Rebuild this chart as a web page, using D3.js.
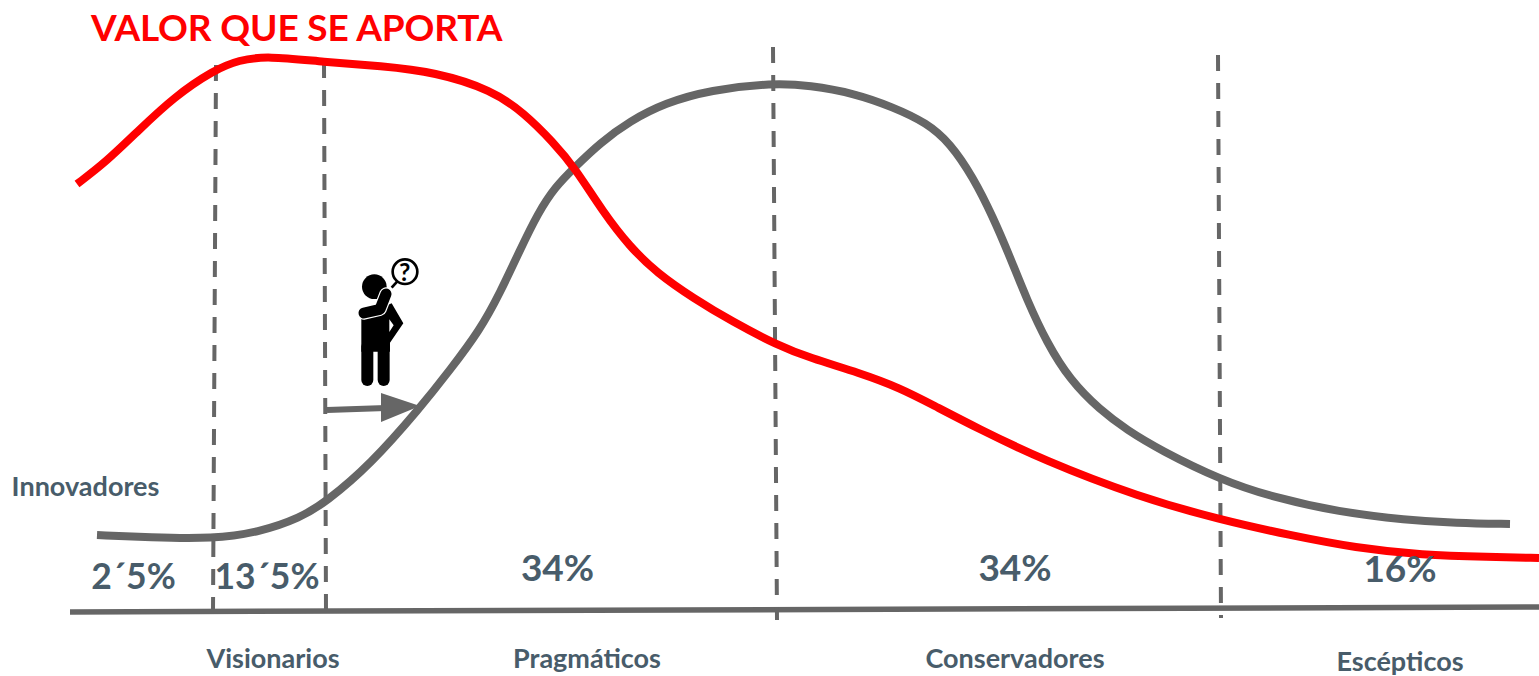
<!DOCTYPE html>
<html>
<head>
<meta charset="utf-8">
<script src="https://cdn.jsdelivr.net/npm/d3@7"></script>
<style>
	html, body { margin: 0; padding: 0; background: white; overflow: hidden; }
	text { font-family: Lato, sans-serif; font-weight: 700; }
</style>
</head>
<body>
<svg id="chart" width="1539" height="676"></svg>
<script>
// curves (x = position along the adoption axis, y = height above it)
const grayX = [9.7, 15, 21.3, 26, 30, 32.6, 37, 42, 45, 48, 50, 52, 53.8, 55.5, 57.5, 60, 63, 66.5, 71, 77.3, 81, 85.3, 89.3, 92.7, 95, 97.3, 99.3, 101, 102.7, 104.7, 107, 110, 112.7, 116, 122.1, 127.2, 133.9, 140.6, 145.6, 151];
const grayY = [15.4, 14.9, 14.6, 16, 18.8, 22, 29.4, 40.8, 48.4, 56.4, 63.8, 72.4, 79.8, 85, 89, 93.8, 98.2, 101.8, 104.4, 105.8, 105.3, 103.8, 101, 97.8, 93.8, 87, 79, 71, 62.4, 53.8, 46.4, 40.4, 36.4, 32.4, 26.4, 23, 20, 18.4, 17.8, 17.6];
const redX = [7.7, 10.6, 13.9, 17.4, 21.4, 23.9, 26.7, 32.4, 38.1, 43.5, 49.2, 52.4, 55.3, 57.5, 60.3, 63, 65.7, 69.3, 73.3, 77.7, 81, 86, 90, 93.3, 97.7, 104.3, 113.9, 122.1, 128.9, 135.6, 142.2, 148.9, 153.9];
const redY = [85.6, 90, 96.4, 103, 108.4, 110.4, 111.2, 110, 109.2, 108, 104.4, 99.8, 94, 88.8, 80, 73, 67.8, 62.8, 58, 53.4, 50.8, 47.8, 44.8, 41.4, 36.8, 30.4, 23, 18.4, 15.4, 12.8, 11.4, 11, 10.8];

// segment dividers: x at the top, x at the bottom, top height, bottom height
const dividerTopX = [21.6, 32.4, 77.3, 121.8];
const dividerBottomX = [21.3, 32.6, 77.7, 122.1];
const dividerTopY = [109.4, 110, 113, 111.4];
const dividerBottomY = [0, 0, -1.6, -1.2];

const percentLabels = ['2´5%', '13´5%', '34%', '34%', '16%'];
const percentX = [13.35, 26.7, 55.75, 101.5, 140];
const percentY = [4.6, 4.6, 6.2, 6.2, 6];

const groupLabels = ['Innovadores', 'Visionarios', 'Pragmáticos', 'Conservadores', 'Escépticos'];
const groupX = [8.55, 27.3, 58.7, 101.5, 140];
const groupY = [23.2, -11.2, -11.2, -11.2, -11.7];

const width = 1539, height = 676;
const x = d3.scaleLinear().domain([0, 153.9]).range([0, width]);
const y = d3.scaleLinear().domain([0, 122.4]).range([612, 0]);

const svg = d3.select('#chart');
const line = d3.line().x(d => x(d[0])).y(d => y(d[1])).curve(d3.curveBasis);
const straight = d3.line().x(d => x(d[0])).y(d => y(d[1]));

// base axis
svg.append('path')
	.attr('d', straight([[7, 0], [153.9, 1]]))
	.attr('fill', 'none').attr('stroke', '#666').attr('stroke-width', 5.5);

// dividers
svg.append('g').selectAll('line').data(dividerTopX).join('line')
	.attr('x1', d => x(d))
	.attr('y1', (d, i) => y(dividerTopY[i]))
	.attr('x2', (d, i) => x(dividerBottomX[i]))
	.attr('y2', (d, i) => y(dividerBottomY[i]))
	.attr('stroke', '#666').attr('stroke-width', 4).attr('stroke-dasharray', '16 12');

// curves
svg.append('path').datum(d3.zip(grayX, grayY))
	.attr('d', line)
	.attr('fill', 'none').attr('stroke', '#666').attr('stroke-width', 8);
svg.append('path').datum(d3.zip(redX, redY))
	.attr('d', line)
	.attr('fill', 'none').attr('stroke', '#ff0000').attr('stroke-width', 8);

// arrow
svg.append('path')
	.attr('d', straight([[32.7, 40.4], [38.6, 40.8]]))
	.attr('fill', 'none').attr('stroke', '#666').attr('stroke-width', 6);
svg.append('path')
	.attr('d', straight([[38.1, 43.8], [42, 41.2], [38.1, 38]]) + 'Z')
	.attr('fill', '#666');

// person with question bubble
const person = svg.append('g').attr('transform', 'translate(320,240) scale(0.3333)');
person.append('circle').attr('cx', 163).attr('cy', 140).attr('r', 37).attr('fill', 'black');
person.append('line').attr('x1', 142).attr('y1', 320).attr('x2', 142).attr('y2', 420)
	.attr('stroke', 'black').attr('stroke-width', 36).attr('stroke-linecap', 'round');
person.append('line').attr('x1', 191).attr('y1', 320).attr('x2', 191).attr('y2', 420)
	.attr('stroke', 'black').attr('stroke-width', 36).attr('stroke-linecap', 'round');
person.append('path')
	.attr('d', 'M124,225 L124,335 L210,335 L210,308 L250,250 L215,190 L180,205 Z M208,238 L208,276 L221,256 Z')
	.attr('fill', 'black').attr('fill-rule', 'evenodd');
person.append('path')
	.attr('d', 'M132,219 L180,208 L198,162')
	.attr('fill', 'none').attr('stroke', 'white').attr('stroke-width', 40).attr('stroke-linejoin', 'round').attr('stroke-linecap', 'round');
person.append('path')
	.attr('d', 'M132,219 L180,208 L198,162')
	.attr('fill', 'none').attr('stroke', 'black').attr('stroke-width', 33).attr('stroke-linejoin', 'round').attr('stroke-linecap', 'round');
person.append('line').attr('x1', 215).attr('y1', 143).attr('x2', 232).attr('y2', 124)
	.attr('stroke', 'black').attr('stroke-width', 8);
person.append('circle').attr('cx', 255).attr('cy', 95).attr('r', 37)
	.attr('fill', 'white').attr('stroke', 'black').attr('stroke-width', 8);
person.append('text').attr('x', 254).attr('y', 122).attr('text-anchor', 'middle')
	.attr('font-size', 74).attr('fill', 'black').text('?');

// texts
svg.append('text').attr('x', 91).attr('y', 41)
	.attr('font-size', 37).attr('fill', '#ff0000').attr('letter-spacing', -0.15).text('VALOR QUE SE APORTA');

svg.append('g').selectAll('text').data(percentLabels).join('text')
	.attr('x', (d, i) => x(percentX[i]))
	.attr('y', (d, i) => y(percentY[i]))
	.attr('text-anchor', 'middle')
	.attr('font-size', (d, i) => i < 2 ? 35.5 : 37).attr('fill', '#485c6a')
	.text(d => d);

svg.append('g').selectAll('text').data(groupLabels).join('text')
	.attr('x', (d, i) => x(groupX[i]))
	.attr('y', (d, i) => y(groupY[i]))
	.attr('text-anchor', 'middle')
	.attr('font-size', 27).attr('fill', '#485c6a')
	.text(d => d);
</script>
</body>
</html>
